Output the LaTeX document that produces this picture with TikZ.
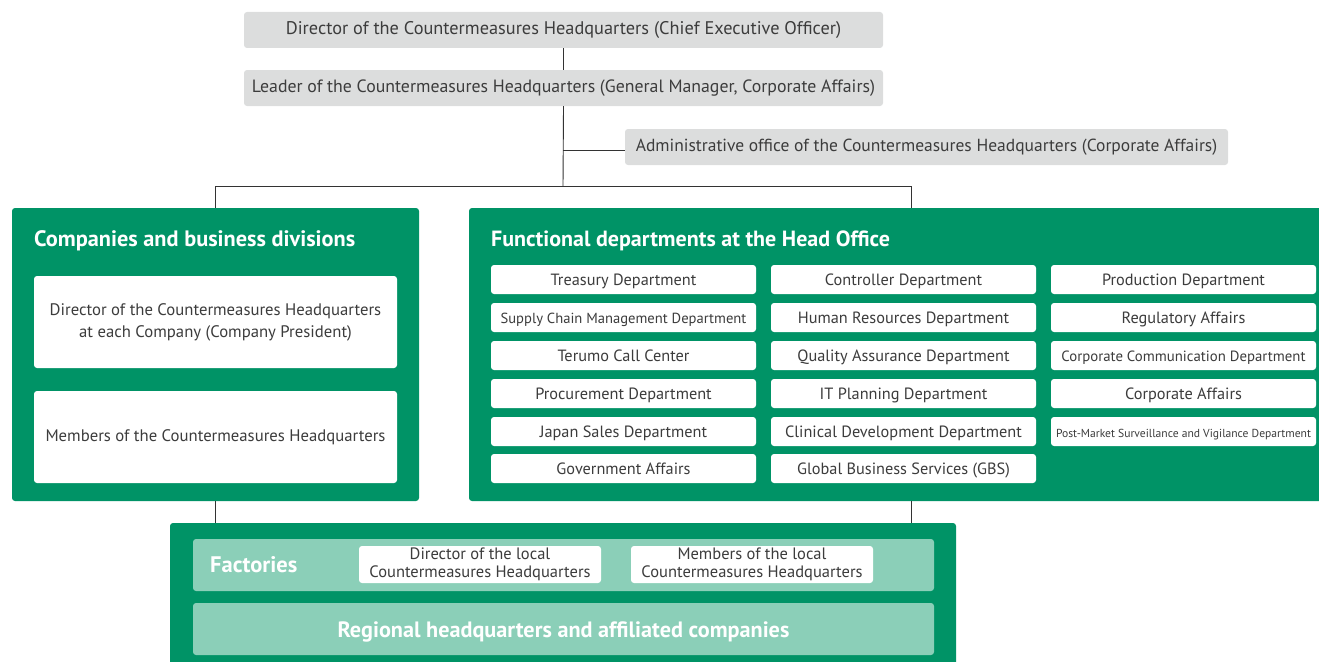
\documentclass[tikz,border=0pt]{standalone}
\usepackage{fontspec}
\setmainfont{PT Sans}
\definecolor{tgreen}{HTML}{009366}
\definecolor{lgreen}{HTML}{8BCFB8}
\definecolor{gbox}{HTML}{DCDDDD}
\definecolor{txt}{HTML}{3C3C3C}
\definecolor{lin}{HTML}{333333}
\tikzset{
  graybox/.style={fill=gbox, rounded corners=3pt, text=txt, font=\fontsize{17.8}{20}\selectfont, inner sep=0pt, text height=8.8pt, text depth=0pt},
  greenbox/.style={fill=tgreen, rounded corners=3pt, inner sep=0pt},
  bandbox/.style={fill=lgreen, rounded corners=3pt, inner sep=0pt},
  whitebox/.style={fill=white, rounded corners=3pt, text=txt, align=center, inner sep=0pt, font=\fontsize{16.7}{22}\selectfont},
  dept/.style={fill=white, rounded corners=3pt, text=txt, inner sep=0pt, minimum width=265pt, minimum height=29pt, font=\fontsize{16.3}{18}\selectfont, text height=11pt, text depth=0pt},
  title/.style={text=white, font=\fontsize{22.3}{26}\selectfont\bfseries, anchor=west, inner sep=0pt, text height=15.4pt, text depth=0pt},
  conn/.style={draw=lin, line width=0.9pt}
}
\begin{document}
\begin{tikzpicture}[x=1pt,y=-1pt]
\useasboundingbox (0,0) rectangle (1319,661);
\clip (0,0) rectangle (1319,661);
% top gray boxes
\node[graybox, minimum width=639pt, minimum height=36pt] (dir) at (563.5,30) {\fontsize{18.3}{20}\selectfont Director of the Countermeasures Headquarters (Chief Executive Officer)};
\node[graybox, minimum width=639pt, minimum height=36pt] (lead) at (563.5,88) {Leader of the Countermeasures Headquarters (General Manager, Corporate Affairs)};
\node[graybox, minimum width=603pt, minimum height=36pt] (adm) at (926.5,147) {\fontsize{17.5}{20}\selectfont Administrative office of the Countermeasures Headquarters (Corporate Affairs)};
% green containers
\node[greenbox, minimum width=407pt, minimum height=293pt] (comp) at (215.5,354.5) {};
\node[greenbox, minimum width=860pt, minimum height=293pt] (func) at (899,354.5) {};
\node[greenbox, minimum width=786pt, minimum height=160pt] (fac) at (563,603) {};
% titles
\node[title] (compt) at (34,239) {Companies and business divisions};
\node[title, font=\fontsize{22}{26}\selectfont\bfseries] (funct) at (491,239) {Functional departments at the Head Office};
% left white boxes
\node[whitebox, minimum width=363pt, minimum height=92pt] (cdir) at (215.5,322) {Director of the Countermeasures Headquarters\\at each Company (Company President)};
\node[whitebox, minimum width=363pt, minimum height=92pt] (cmem) at (215.5,437) {Members of the Countermeasures Headquarters};
% departments
\node[dept] (d11) at (623.5,279.5) {Treasury Department};
\node[dept] (d12) at (623.5,317.5) {\fontsize{14.6}{16}\selectfont Supply Chain Management Department};
\node[dept] (d13) at (623.5,355.5) {Terumo Call Center};
\node[dept] (d14) at (623.5,393.5) {Procurement Department};
\node[dept] (d15) at (623.5,431.5) {Japan Sales Department};
\node[dept] (d16) at (623.5,468.5) {Government Affairs};
\node[dept] (d21) at (903.5,279.5) {Controller Department};
\node[dept] (d22) at (903.5,317.5) {Human Resources Department};
\node[dept] (d23) at (903.5,355.5) {Quality Assurance Department};
\node[dept] (d24) at (903.5,393.5) {IT Planning Department};
\node[dept] (d25) at (903.5,431.5) {Clinical Development Department};
\node[dept] (d26) at (903.5,468.5) {Global Business Services (GBS)};
\node[dept] (d31) at (1183.5,279.5) {Production Department};
\node[dept] (d32) at (1183.5,317.5) {Regulatory Affairs};
\node[dept] (d33) at (1183.5,355.5) {\fontsize{14.8}{16}\selectfont Corporate Communication Department};
\node[dept] (d34) at (1183.5,393.5) {Corporate Affairs};
\node[dept] (d35) at (1183.5,431.5) {\fontsize{11.6}{14}\selectfont Post-Market Surveillance and Vigilance Department};
% bottom bands
\node[bandbox, minimum width=741pt, minimum height=52pt] (band1) at (563.5,565) {};
\node[bandbox, minimum width=741pt, minimum height=52pt] (band2) at (563.5,629) {};
\node[title, font=\fontsize{22.5}{26}\selectfont\bfseries, text height=13.4pt] (factt) at (210,566) {Factories};
\node[text=white, font=\fontsize{22.2}{26}\selectfont\bfseries, inner sep=0pt, text height=13.4pt, text depth=0pt] (regt) at (563.5,631) {Regional headquarters and affiliated companies};
\node[whitebox, minimum width=242pt, minimum height=37pt, font=\fontsize{16.5}{18}\selectfont] (ldir) at (480,564.5) {Director of the local\\Countermeasures Headquarters};
\node[whitebox, minimum width=242pt, minimum height=37pt, font=\fontsize{16.5}{18}\selectfont] (lmem) at (752,564.5) {Members of the local\\Countermeasures Headquarters};
% connectors
\coordinate (jA) at (563,150);
\coordinate (jB) at (563,186);
\coordinate (jL) at (215,186);
\coordinate (jR) at (911,186);
\draw[conn] (dir.south) -- (lead.north);
\draw[conn] (lead.south) -- (jB);
\draw[conn] (jA) -- (adm.west |- jA);
\draw[conn] (jL) -- (jR);
\draw[conn] (jL) -- (jL |- comp.north);
\draw[conn] (jR) -- (jR |- func.north);
\draw[conn] (comp.south -| jL) -- (jL |- fac.north);
\draw[conn] (func.south -| jR) -- (jR |- fac.north);
\end{tikzpicture}
\end{document}
